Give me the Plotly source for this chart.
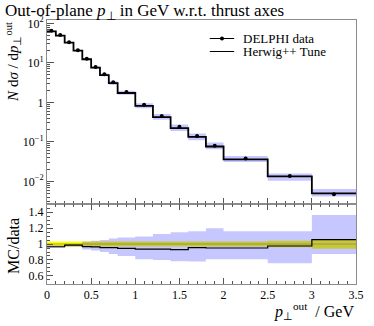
import numpy as np
import plotly.graph_objects as go

# bin edges in p_perp^out (GeV)
edges = [0.0, 0.1, 0.2, 0.3, 0.4, 0.5, 0.6, 0.7, 0.8, 1.0, 1.2, 1.4, 1.6, 1.8, 2.0, 2.5, 3.0, 3.5]

# DELPHI data, N dsigma/dp
data_vals = [65, 50.5, 33, 20.7, 12.7, 7.8, 5.1, 3.2, 1.82, 0.87, 0.45, 0.24, 0.14, 0.080, 0.038, 0.0136, 0.0047]
# relative data uncertainty (yellow band)
data_rel_err = [0.03, 0.03, 0.03, 0.03, 0.03, 0.03, 0.03, 0.03, 0.03, 0.03, 0.03, 0.03, 0.03, 0.03, 0.03, 0.04, 0.06]

# Herwig++ / data ratio and its uncertainty band
mc_ratio = [0.966, 0.966, 0.985, 0.985, 0.968, 0.965, 0.955, 0.955, 0.945, 0.935, 0.935, 0.93, 0.955, 0.95, 0.95, 0.975, 1.055]
mc_ratio_up = [0.985, 0.985, 1.0, 1.0, 1.03, 1.04, 1.05, 1.07, 1.08, 1.095, 1.125, 1.146, 1.16, 1.196, 1.158, 1.158, 1.362]
mc_ratio_dn = [0.95, 0.95, 0.965, 0.965, 0.93, 0.92, 0.9, 0.875, 0.85, 0.81, 0.8, 0.783, 0.78, 0.81, 0.81, 0.758, 0.875]

legend_names = ["DELPHI data", "Herwig++ Tune"]

FONT = "Liberation Serif"
FRAME = "#8c8c8c"
TICK = "#555555"
BLUE = "rgba(0,0,255,0.22)"

edges = np.array(edges)
data = np.array(data_vals)
rel = np.array(data_rel_err)
centers = 0.5 * (edges[:-1] + edges[1:])
mc = data * np.array(mc_ratio)
mc_up = data * np.array(mc_ratio_up)
mc_dn = data * np.array(mc_ratio_dn)


def step(vals):
    # repeat last value so the hv line closes the last bin
    return np.append(vals, vals[-1])


def band(fig, lo, hi, color, xa, ya):
    fig.add_trace(go.Scatter(x=edges, y=step(lo), mode="lines", line=dict(width=0, shape="hv"),
                             showlegend=False, hoverinfo="skip", xaxis=xa, yaxis=ya))
    fig.add_trace(go.Scatter(x=edges, y=step(hi), mode="lines", line=dict(width=0, shape="hv"),
                             fill="tonexty", fillcolor=color, showlegend=False, hoverinfo="skip",
                             xaxis=xa, yaxis=ya))


fig = go.Figure()

# ---------------- main panel ----------------
band(fig, mc_dn, mc_up, BLUE, "x", "y")
fig.add_trace(go.Scatter(x=edges, y=step(mc), mode="lines", line=dict(color="black", width=1.8, shape="hv"),
                         showlegend=False, xaxis="x", yaxis="y"))
fig.add_trace(go.Scatter(x=centers, y=data, mode="markers", marker=dict(color="black", size=4),
                         error_y=dict(type="data", array=data * rel, color="black", thickness=1, width=0),
                         showlegend=False, xaxis="x", yaxis="y"))

# ---------------- ratio panel ----------------
band(fig, 1 - rel, 1 + rel, "#ffff00", "x2", "y2")
band(fig, np.array(mc_ratio_dn), np.array(mc_ratio_up), BLUE, "x2", "y2")
fig.add_trace(go.Scatter(x=edges, y=step(data / data), mode="lines",
                         line=dict(color="#8a8a60", width=0.8, shape="hv"),
                         showlegend=False, hoverinfo="skip", xaxis="x2", yaxis="y2"))
fig.add_trace(go.Scatter(x=edges, y=step(np.array(mc_ratio)), mode="lines",
                         line=dict(color="black", width=1.2, shape="hv"),
                         showlegend=False, xaxis="x2", yaxis="y2"))

# minor tick positions for the log axis
log_minor = [m * 10.0 ** d for d in range(-3, 3) for m in range(2, 10)]

axis_common = dict(showline=True, linecolor=FRAME, linewidth=1, showgrid=False, zeroline=False,
                   ticks="inside", tickcolor=TICK, tickfont=dict(family=FONT, size=12, color="black"))

fig.update_layout(
    width=374,
    height=326,
    margin=dict(l=47, r=10, t=20, b=42),
    paper_bgcolor="white",
    plot_bgcolor="white",
    font=dict(family=FONT, color="black"),
    title=dict(text="Out-of-plane <i>p</i><sub>⊥</sub> in GeV w.r.t. thrust axes",
               x=5 / 374, xanchor="left", y=1 - 10 / 326, yanchor="middle",
               font=dict(family=FONT, size=17, color="black")),
    showlegend=False,
    xaxis=dict(**axis_common, domain=[0, 1], range=[0, 3.5], anchor="y", mirror=True,
               dtick=0.5, ticklen=6, showticklabels=False,
               minor=dict(ticks="inside", ticklen=3, dtick=0.1, tickcolor=TICK)),
    yaxis=dict(**axis_common, domain=[0.303, 1], type="log", range=[-2.575, 2.084], anchor="x", mirror=True,
               tickvals=[100, 10, 1, 0.1, 0.01],
               ticktext=["10<sup>2</sup>", "10<sup>1</sup>", "1", "10<sup>−1</sup>", "10<sup>−2</sup>"],
               ticklen=7,
               minor=dict(ticks="inside", ticklen=3, tickvals=log_minor, tickcolor=TICK)),
    xaxis2=dict(**axis_common, domain=[0, 1], range=[0, 3.5], anchor="y2", mirror="ticks",
                dtick=0.5, ticklen=6,
                minor=dict(ticks="inside", ticklen=3, dtick=0.1, tickcolor=TICK)),
    yaxis2=dict(**axis_common, domain=[0, 0.303], range=[0.5, 1.5], anchor="x2", mirror=True,
                tickvals=[0.6, 0.8, 1.0, 1.2, 1.4], ticklen=6,
                minor=dict(ticks="inside", ticklen=3, dtick=0.05, tickcolor=TICK)),
)

# axis titles
fig.add_annotation(text="<i>N</i> d<i>σ</i> / d<i>p</i><sub>⊥</sub><sup>out</sup>",
                   xref="paper", yref="paper", x=(12 - 47) / 317, y=1.0, xanchor="center", yanchor="top",
                   textangle=-90, showarrow=False, font=dict(family=FONT, size=15, color="black"))
fig.add_annotation(text="MC/data", xref="paper", yref="paper", x=(12 - 47) / 317, y=(284 - 246) / 264,
                   xanchor="center", yanchor="middle", textangle=-90, showarrow=False,
                   font=dict(family=FONT, size=16, color="black"))
fig.add_annotation(text="<i>p</i><sub>⊥</sub><sup>out</sup>  / GeV", xref="paper", yref="paper",
                   x=1.0, y=(284 - 311) / 264, xanchor="right", yanchor="middle", showarrow=False,
                   font=dict(family=FONT, size=16, color="black"))

# hand-made legend (rivet style, tight spacing)
leg_x0, leg_x1, leg_tx = (214 - 47) / 317, (239 - 47) / 317, (246 - 47) / 317
leg_y = [(284 - 38.5) / 264, (284 - 51.5) / 264]
for i, name in enumerate(legend_names):
    fig.add_shape(type="line", xref="paper", yref="paper", x0=leg_x0, x1=leg_x1, y0=leg_y[i], y1=leg_y[i],
                  line=dict(color="black", width=1))
    fig.add_annotation(text=name, xref="paper", yref="paper", x=leg_tx, y=leg_y[i],
                       xanchor="left", yanchor="middle", showarrow=False,
                       font=dict(family=FONT, size=13, color="black"))
fig.add_shape(type="circle", xref="paper", yref="paper", xsizemode="pixel", ysizemode="pixel",
              xanchor=(leg_x0 + leg_x1) / 2, yanchor=leg_y[0], x0=-2, x1=2, y0=-2, y1=2,
              fillcolor="black", line=dict(color="black", width=0))

fig.write_html("out.html", config={"displayModeBar": False},
               post_script="document.body.style.margin='0';")
